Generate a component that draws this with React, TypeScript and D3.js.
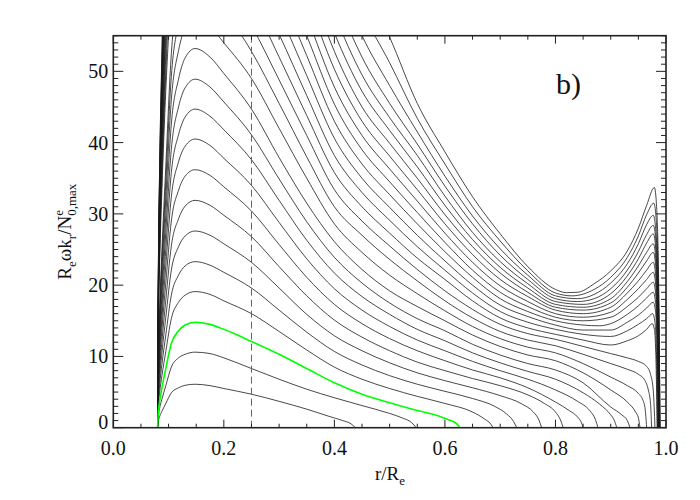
import React from 'react';
import * as d3 from 'd3';

const W = 700, H = 500;
const PLOT = { left: 113.3, right: 666, top: 35.7, bottom: 427.7 };

const xMajor = [0, 0.2, 0.4, 0.6, 0.8, 1.0];
const xTickLabels = ['0.0', '0.2', '0.4', '0.6', '0.8', '1.0'];
const yMajor = [0, 10, 20, 30, 40, 50];
const yTickLabels = ['0', '10', '20', '30', '40', '50'];
const xMinorStep = 0.05;
const yMinorStep = 1;
const dashedR = 0.25;
const greenIndex = 2;

type P = [number, number];
const c01: P[] = [[0.08,0],[0.0815,0.9],[0.084,1.6],[0.088,2.3],[0.095,3.4],[0.105,4.9],[0.118,5.6],[0.13,5.95],[0.148,6.1],[0.175,5.9],[0.2,5.5],[0.25,4.7],[0.3,3.7],[0.35,2.6],[0.39,1.6],[0.415,1.0],[0.43,0.55],[0.438,0]];
const c02: P[] = [[0.08,0],[0.0815,1.6],[0.084,2.8],[0.088,4.0],[0.095,5.9],[0.105,8.5],[0.118,9.8],[0.13,10.3],[0.148,10.6],[0.175,10.4],[0.2,9.8],[0.25,8.3],[0.3,6.8],[0.35,5.4],[0.4,4.2],[0.45,3.1],[0.5,2.0],[0.525,1.3],[0.54,0.7],[0.548,0]];
const c03: P[] = [[0.08,0],[0.0815,2.2],[0.084,3.8],[0.088,5.6],[0.095,8.3],[0.105,11.8],[0.118,13.6],[0.13,14.4],[0.148,14.8],[0.175,14.5],[0.2,13.8],[0.25,12.1],[0.3,10.3],[0.35,8.3],[0.4,6.3],[0.45,4.7],[0.5,3.5],[0.55,2.4],[0.59,1.6],[0.61,1.0],[0.622,0.5],[0.627,0]];
const c04: P[] = [[0.08,0],[0.0815,2.9],[0.084,5.0],[0.088,7.3],[0.095,10.7],[0.105,15.3],[0.118,17.6],[0.13,18.6],[0.148,19.1],[0.175,18.7],[0.2,17.8],[0.25,16.0],[0.3,13.5],[0.35,10.9],[0.4,8.5],[0.45,6.8],[0.5,5.5],[0.55,4.4],[0.6,3.4],[0.65,2.2],[0.672,1.2],[0.683,0.5],[0.687,0]];
const c05: P[] = [[0.08,0],[0.0815,3.5],[0.084,6.1],[0.088,8.9],[0.095,13.0],[0.105,18.6],[0.118,21.4],[0.13,22.7],[0.148,23.3],[0.175,22.8],[0.2,21.8],[0.25,19.6],[0.3,16.5],[0.35,13.4],[0.4,10.7],[0.45,8.8],[0.5,7.3],[0.55,6.1],[0.6,5.1],[0.65,4.1],[0.69,3.0],[0.712,1.9],[0.724,0.9],[0.73,0]];
const c06: P[] = [[0.08,0],[0.0815,4.1],[0.084,7.2],[0.088,10.5],[0.095,15.5],[0.105,22.1],[0.118,25.4],[0.13,26.9],[0.148,27.6],[0.175,27.0],[0.2,25.8],[0.25,23.2],[0.3,19.6],[0.35,15.9],[0.4,12.9],[0.45,10.8],[0.5,9.1],[0.55,7.7],[0.6,6.6],[0.65,5.6],[0.7,4.5],[0.74,3.3],[0.76,2.2],[0.77,1.1],[0.775,0]];
const c07: P[] = [[0.08,0],[0.0815,4.8],[0.084,8.3],[0.088,12.1],[0.095,17.9],[0.105,25.5],[0.118,29.3],[0.13,31.1],[0.148,31.9],[0.175,31.2],[0.2,29.8],[0.25,26.8],[0.3,22.6],[0.35,18.5],[0.4,15.1],[0.45,12.7],[0.5,10.8],[0.55,9.2],[0.6,8.0],[0.65,6.9],[0.7,5.9],[0.75,4.6],[0.78,3.4],[0.8,2.2],[0.809,1.1],[0.814,0]];
const c08: P[] = [[0.08,0],[0.0815,5.4],[0.084,9.4],[0.088,13.8],[0.095,20.3],[0.105,29.0],[0.118,33.3],[0.13,35.3],[0.148,36.2],[0.175,35.4],[0.2,33.8],[0.25,30.4],[0.3,25.7],[0.35,21.1],[0.4,17.3],[0.45,14.6],[0.5,12.5],[0.55,10.8],[0.6,9.4],[0.65,8.1],[0.7,7.0],[0.75,5.6],[0.8,3.6],[0.825,2.4],[0.84,1.5],[0.847,0.7],[0.85,0]];
const c09: P[] = [[0.08,0],[0.0815,6.1],[0.084,10.5],[0.088,15.4],[0.095,22.7],[0.105,32.4],[0.118,37.3],[0.13,39.5],[0.148,40.5],[0.175,39.6],[0.2,37.8],[0.25,34.0],[0.3,28.8],[0.35,23.7],[0.4,19.5],[0.45,16.5],[0.5,14.2],[0.55,12.3],[0.6,10.8],[0.65,9.3],[0.7,8.0],[0.75,6.8],[0.8,5.3],[0.84,3.7],[0.862,2.4],[0.872,1.2],[0.877,0]];
const c10: P[] = [[0.08,0],[0.0815,6.7],[0.084,11.6],[0.088,17.0],[0.095,25.0],[0.105,35.8],[0.118,41.1],[0.13,43.6],[0.148,44.7],[0.175,43.7],[0.2,41.8],[0.25,37.6],[0.3,31.9],[0.35,26.3],[0.4,21.7],[0.45,18.4],[0.5,15.9],[0.55,13.8],[0.6,12.2],[0.65,10.5],[0.7,9.1],[0.75,7.9],[0.8,6.8],[0.85,4.9],[0.88,3.3],[0.9,1.8],[0.906,1.1],[0.911,0]];
const c11: P[] = [[0.08,0],[0.0815,7.3],[0.084,12.7],[0.088,18.6],[0.095,27.4],[0.105,39.1],[0.118,45.0],[0.13,47.7],[0.148,48.9],[0.175,47.8],[0.2,45.7],[0.25,41.1],[0.3,34.9],[0.35,28.9],[0.4,23.9],[0.45,20.3],[0.5,17.5],[0.55,15.3],[0.6,13.6],[0.65,11.7],[0.7,10.2],[0.75,9.0],[0.8,8.1],[0.85,6.3],[0.9,2.9],[0.92,1.8],[0.93,1.0],[0.935,0]];
const c12: P[] = [[0.08,0],[0.0815,8.0],[0.084,13.8],[0.088,20.2],[0.095,29.8],[0.105,42.6],[0.118,48.9],[0.13,51.9],[0.148,53.2],[0.175,52.0],[0.2,49.7],[0.25,44.7],[0.3,37.9],[0.35,31.5],[0.4,26.1],[0.45,22.2],[0.5,19.2],[0.55,17.0],[0.6,15.0],[0.65,13.0],[0.7,11.4],[0.75,10.2],[0.8,9.4],[0.85,7.7],[0.9,5.3],[0.93,3.6],[0.945,2.2],[0.95,1.4],[0.953,0]];
const c13: P[] = [[0.08,0],[0.0815,8.6],[0.084,15.0],[0.088,21.9],[0.095,32.2],[0.105,46.0],[0.118,52.9],[0.13,56.1],[0.148,57.5],[0.175,56.3],[0.2,54.0],[0.25,49.0],[0.3,42.0],[0.35,35.0],[0.4,28.6],[0.45,24.6],[0.5,21.4],[0.55,18.8],[0.6,16.4],[0.65,14.2],[0.7,12.5],[0.75,11.3],[0.8,10.5],[0.85,9.0],[0.9,7.1],[0.93,5.9],[0.95,4.8],[0.958,3.9],[0.962,2.8],[0.965,0]];
const c14: P[] = [[0.08,0],[0.0815,9.2],[0.084,16.0],[0.088,23.4],[0.095,34.5],[0.105,49.3],[0.118,56.7],[0.13,60.1],[0.148,61.6],[0.175,60.6],[0.2,58.5],[0.25,52.8],[0.3,45.5],[0.35,38.0],[0.4,31.0],[0.45,27.0],[0.5,23.6],[0.55,20.6],[0.6,17.8],[0.65,15.4],[0.7,13.5],[0.75,12.3],[0.8,11.5],[0.85,10.3],[0.9,9.0],[0.93,8.2],[0.95,7.5],[0.962,6.6],[0.968,5.3],[0.972,3.4],[0.974,0]];
const c15: P[] = [[0.08,0],[0.0815,9.8],[0.084,17.1],[0.088,24.9],[0.095,36.7],[0.105,52.5],[0.118,60.4],[0.13,64.0],[0.148,65.6],[0.2,62.3],[0.25,56.4],[0.3,48.8],[0.35,41.0],[0.4,33.4],[0.45,29.0],[0.5,25.5],[0.55,22.2],[0.6,19.2],[0.65,16.6],[0.7,14.5],[0.75,13.2],[0.8,12.4],[0.85,11.4],[0.9,10.4],[0.93,9.8],[0.95,9.3],[0.965,8.6],[0.972,7.5],[0.977,5.2],[0.98,0]];
const c16: P[] = [[0.08,0],[0.0815,13.9],[0.084,23.6],[0.088,33.4],[0.095,47.3],[0.105,60.5],[0.118,66.0],[0.148,69.5],[0.2,66],[0.25,60],[0.3,52],[0.35,43.8],[0.4,35.8],[0.45,31.0],[0.5,27.3],[0.55,23.8],[0.6,20.8],[0.65,17.8],[0.7,15.4],[0.75,14.0],[0.8,13.1],[0.85,12.3],[0.9,11.6],[0.93,12.2],[0.95,12.9],[0.965,13.8],[0.975,14.6],[0.979,13.8],[0.982,9],[0.984,0]];
const c17: P[] = [[0.08,0],[0.0815,14.7],[0.084,24.9],[0.088,35.2],[0.095,49.8],[0.105,63.8],[0.148,73.3],[0.2,69.5],[0.25,63.3],[0.3,55.2],[0.35,46.6],[0.4,38.2],[0.45,33.0],[0.5,29.1],[0.55,25.4],[0.6,22.1],[0.65,18.9],[0.7,16.3],[0.75,14.8],[0.8,13.8],[0.85,13.1],[0.9,12.8],[0.93,13.6],[0.95,14.5],[0.965,15.3],[0.976,16.0],[0.98,14.8],[0.983,9.5],[0.9845,0]];
const c18: P[] = [[0.08,0],[0.0815,15.4],[0.084,26.2],[0.088,37.0],[0.095,52.4],[0.105,67.0],[0.148,77],[0.2,73],[0.25,66.5],[0.3,58.3],[0.35,49.4],[0.4,40.6],[0.45,35.0],[0.5,30.9],[0.55,27.0],[0.6,23.4],[0.65,20.0],[0.7,17.2],[0.75,15.6],[0.8,14.4],[0.85,13.7],[0.9,13.7],[0.93,14.8],[0.95,15.8],[0.965,16.8],[0.977,17.6],[0.981,16.3],[0.984,10.5],[0.9855,0]];
const c19: P[] = [[0.08,0],[0.0815,16.1],[0.084,27.4],[0.088,38.7],[0.095,54.8],[0.105,70.1],[0.148,80.6],[0.25,70],[0.3,61.4],[0.35,52.2],[0.4,43.0],[0.45,37.0],[0.5,32.7],[0.55,28.6],[0.6,24.7],[0.65,21.1],[0.7,18.1],[0.75,16.3],[0.8,15.0],[0.85,14.4],[0.88,14.3],[0.9,14.6],[0.93,15.9],[0.95,17.1],[0.965,18.2],[0.977,19.0],[0.981,17.6],[0.9845,11.5],[0.986,0]];
const c20: P[] = [[0.08,0],[0.0815,16.8],[0.084,28.6],[0.088,40.3],[0.095,57.1],[0.105,73.1],[0.148,84],[0.25,74],[0.3,64.5],[0.35,55.0],[0.4,45.4],[0.45,39.0],[0.5,34.5],[0.55,30.2],[0.6,26.0],[0.65,22.1],[0.7,19.0],[0.75,17.0],[0.8,15.5],[0.85,15.0],[0.9,15.5],[0.93,17.0],[0.95,18.3],[0.965,19.5],[0.977,20.4],[0.981,19.0],[0.985,12],[0.9865,0]];
const c21: P[] = [[0.08,0],[0.0815,17.5],[0.084,29.7],[0.088,42.0],[0.095,59.4],[0.105,76.0],[0.148,87.3],[0.3,68],[0.35,57.8],[0.4,47.8],[0.45,41.0],[0.5,36.3],[0.55,31.8],[0.6,27.3],[0.65,23.2],[0.7,19.9],[0.75,17.7],[0.8,16.0],[0.85,15.5],[0.9,16.2],[0.93,18.0],[0.95,19.5],[0.965,20.8],[0.977,21.8],[0.981,20.3],[0.985,12.5],[0.987,0]];
const c22: P[] = [[0.08,0],[0.0815,18.1],[0.084,30.8],[0.088,43.5],[0.095,61.5],[0.105,78.7],[0.148,90.5],[0.3,71.5],[0.35,60.6],[0.4,50.3],[0.45,43.0],[0.5,38.1],[0.55,33.4],[0.6,28.6],[0.65,24.3],[0.7,20.8],[0.75,18.4],[0.8,16.5],[0.85,16.0],[0.9,16.9],[0.93,18.9],[0.95,20.6],[0.965,22.1],[0.977,23.2],[0.981,21.6],[0.9853,13],[0.9873,0]];
const c23: P[] = [[0.08,0],[0.0815,18.7],[0.084,31.8],[0.088,45.0],[0.095,63.6],[0.105,81.4],[0.148,93.6],[0.3,75],[0.35,63.4],[0.4,52.8],[0.45,45.0],[0.5,39.9],[0.55,35.0],[0.6,29.9],[0.65,25.4],[0.7,21.7],[0.75,19.0],[0.8,16.9],[0.85,16.5],[0.9,17.5],[0.93,19.7],[0.95,21.7],[0.965,23.4],[0.977,24.6],[0.981,23.0],[0.9856,13.5],[0.9876,0]];
const c24: P[] = [[0.08,0],[0.0815,19.3],[0.084,32.8],[0.088,46.4],[0.095,65.7],[0.105,84.0],[0.148,96.6],[0.35,66.2],[0.4,55.4],[0.45,47.2],[0.5,41.7],[0.55,36.6],[0.6,31.2],[0.65,26.4],[0.7,22.5],[0.75,19.6],[0.8,17.3],[0.85,16.9],[0.9,18.1],[0.93,20.5],[0.95,22.7],[0.965,24.6],[0.977,25.8],[0.981,24.2],[0.9859,14],[0.9879,0]];
const c25: P[] = [[0.08,0],[0.0815,19.9],[0.084,33.8],[0.088,47.8],[0.095,67.7],[0.105,86.6],[0.148,99.5],[0.35,70],[0.4,58.2],[0.45,49.5],[0.5,43.5],[0.55,38.2],[0.6,32.5],[0.65,27.4],[0.7,23.3],[0.75,20.2],[0.8,17.7],[0.85,17.3],[0.9,18.8],[0.93,21.3],[0.95,23.7],[0.965,25.9],[0.977,27.2],[0.981,25.5],[0.9862,14.5],[0.9882,0]];
const c26: P[] = [[0.08,0],[0.0815,20.5],[0.084,34.8],[0.088,49.1],[0.095,69.6],[0.148,102.3],[0.35,74],[0.4,61.2],[0.45,52.0],[0.5,45.5],[0.55,39.8],[0.6,33.9],[0.65,28.6],[0.7,24.2],[0.75,20.8],[0.8,18.1],[0.84,17.7],[0.87,18.1],[0.9,19.5],[0.93,22.1],[0.95,24.7],[0.965,27.1],[0.977,28.4],[0.981,26.8],[0.9865,15],[0.9885,0]];
const c27: P[] = [[0.08,0],[0.0815,21.0],[0.084,35.7],[0.088,50.4],[0.095,71.4],[0.148,105],[0.35,78],[0.4,64.5],[0.45,55.0],[0.5,48.0],[0.55,41.5],[0.6,35.3],[0.65,29.7],[0.7,25.1],[0.75,21.4],[0.8,18.5],[0.84,18.1],[0.87,18.7],[0.9,20.3],[0.93,23.0],[0.95,25.8],[0.965,28.5],[0.977,29.8],[0.981,28.2],[0.9868,16],[0.9888,0]];
const c28: P[] = [[0.08,0],[0.0815,21.5],[0.084,36.6],[0.088,51.6],[0.095,73.1],[0.148,107.6],[0.4,68],[0.45,58.5],[0.5,51.2],[0.55,43.4],[0.6,37.0],[0.65,31.0],[0.7,26.2],[0.75,22.0],[0.8,18.9],[0.83,18.5],[0.87,19.4],[0.9,21.1],[0.93,23.9],[0.95,26.9],[0.965,29.9],[0.978,31.5],[0.982,29.5],[0.9871,16.5],[0.9891,0]];
const c29: P[] = [[0.08,0],[0.0815,22.0],[0.084,37.4],[0.088,52.8],[0.095,74.8],[0.148,110],[0.4,72],[0.45,63.0],[0.5,54.8],[0.55,45.5],[0.6,38.7],[0.65,32.4],[0.7,27.2],[0.75,22.6],[0.8,19.4],[0.82,18.95],[0.84,19.0],[0.87,20.2],[0.9,22.0],[0.93,24.8],[0.95,28.0],[0.965,31.2],[0.979,33.7],[0.983,31.0],[0.9873,17],[0.9893,0]];

const curves: P[][] = [c01,c02,c03,c04,c05,c06,c07,c08,c09,c10,c11,c12,c13,c14,c15,c16,c17,c18,c19,c20,c21,c22,c23,c24,c25,c26,c27,c28,c29];

const x = d3.scaleLinear().domain([0, 1]).range([PLOT.left, PLOT.right]);
const y = d3.scaleLinear().domain([0, 55]).range([PLOT.bottom, PLOT.top]);
const line = d3.line<P>().x(d => x(d[0])).y(d => y(d[1])).curve(d3.curveMonotoneX);

const FONT = "'Liberation Serif', 'Nimbus Roman', 'FreeSerif', 'Tinos', 'DejaVu Serif', 'Times New Roman', Times, 'Noto Serif', 'Liberation Sans', serif";

export default function App() {
  const xMinor = d3.range(0, 1.0001, xMinorStep).filter(v => !xMajor.some(m => Math.abs(m - v) < 1e-6));
  const yMinor = d3.range(0, 55.0001, yMinorStep).filter(v => !yMajor.some(m => Math.abs(m - v) < 1e-6));
  const axisColor = '#222';
  return (
    <svg width={W} height={H} style={{ position: 'absolute', left: 0, top: 0, background: '#fff' }}>
      <defs>
        <clipPath id="plotclip">
          <rect x={PLOT.left} y={PLOT.top} width={PLOT.right - PLOT.left} height={PLOT.bottom - PLOT.top} />
        </clipPath>
      </defs>
      <g clipPath="url(#plotclip)" fill="none">
        {curves.map((c, i) => i === greenIndex ? null : (
          <path key={i} d={line(c) || ''} stroke="#1a1a1a" strokeWidth={0.8} />
        ))}
        <path d={line(curves[greenIndex]) || ''} stroke="#00ff00" strokeWidth={1.6} />
        <line x1={x(dashedR)} x2={x(dashedR)} y1={PLOT.top} y2={PLOT.bottom} stroke="#4455ff" strokeWidth={1} strokeDasharray="7,4" />
      </g>
      <g stroke={axisColor} strokeWidth={1}>
        {xMajor.map(v => (
          <g key={'xm' + v}>
            <line x1={x(v)} x2={x(v)} y1={PLOT.bottom} y2={PLOT.bottom - 8} />
            <line x1={x(v)} x2={x(v)} y1={PLOT.top} y2={PLOT.top + 8} />
          </g>
        ))}
        {xMinor.map(v => (
          <g key={'xn' + v}>
            <line x1={x(v)} x2={x(v)} y1={PLOT.bottom} y2={PLOT.bottom - 4} />
            <line x1={x(v)} x2={x(v)} y1={PLOT.top} y2={PLOT.top + 4} />
          </g>
        ))}
        {yMajor.map(v => (
          <g key={'ym' + v}>
            <line x1={PLOT.left} x2={PLOT.left + 10} y1={y(v)} y2={y(v)} />
            <line x1={PLOT.right} x2={PLOT.right - 10} y1={y(v)} y2={y(v)} />
          </g>
        ))}
        {yMinor.map(v => (
          <g key={'yn' + v}>
            <line x1={PLOT.left} x2={PLOT.left + 5} y1={y(v)} y2={y(v)} />
            <line x1={PLOT.right} x2={PLOT.right - 5} y1={y(v)} y2={y(v)} />
          </g>
        ))}
      </g>
      <rect x={PLOT.left} y={PLOT.top} width={PLOT.right - PLOT.left} height={PLOT.bottom - PLOT.top} fill="none" stroke={axisColor} strokeWidth={1.6} />
      <g fontSize={20} fill="#111" style={{ fontFamily: FONT }}>
        {xMajor.map((v, i) => (
          <text key={'xl' + v} x={x(v)} y={455} textAnchor="middle">{xTickLabels[i]}</text>
        ))}
        {yMajor.map((v, i) => (
          <text key={'yl' + v} x={PLOT.left - 5} y={y(v) + 7 - (v === 0 ? 6 : 0)} textAnchor="end">{yTickLabels[i]}</text>
        ))}
      </g>
      <text x={390} y={480} textAnchor="middle" fontSize={19} fill="#111" style={{ fontFamily: FONT }}>
        r/R<tspan fontSize={13} dy={5}>e</tspan>
      </text>
      <text transform={`translate(71, ${(PLOT.top + PLOT.bottom) / 2}) rotate(-90)`} textAnchor="middle" fontSize={19} fill="#111" style={{ fontFamily: FONT }}>
        R<tspan fontSize={13} dy={5}>e</tspan><tspan dy={-5}>ωk</tspan><tspan fontSize={13} dy={5}>r</tspan><tspan dy={-5}>/N</tspan><tspan fontSize={13} dy={-8}>e</tspan><tspan fontSize={13} dx={-5.8} dy={13}>0,max</tspan>
      </text>
      <text x={556} y={94} fontSize={30} fill="#111" style={{ fontFamily: FONT }}>b)</text>
    </svg>
  );
}
